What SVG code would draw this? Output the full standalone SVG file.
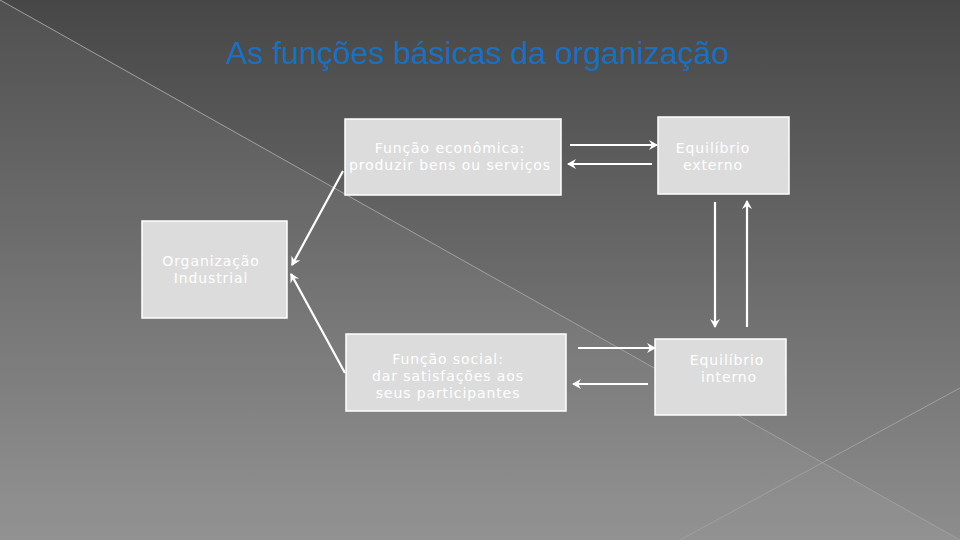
<svg xmlns="http://www.w3.org/2000/svg" width="960" height="540" viewBox="0 0 960 540">
<defs>
<linearGradient id="bg" x1="0" y1="0" x2="0" y2="1">
<stop offset="0" stop-color="#474747"/>
<stop offset="1" stop-color="#8d8d8d"/>
</linearGradient>
<marker id="ah" markerWidth="10" markerHeight="10" refX="8" refY="5" orient="auto" markerUnits="userSpaceOnUse">
<path d="M0,0 L9,5 L0,10 L3,5 Z" fill="#ffffff"/>
</marker>
<style>
.box{fill:#dcdcdc;stroke:#ffffff;stroke-width:1.5}
.lbl{font-family:"DejaVu Sans",Verdana,sans-serif;font-size:14px;fill:#ffffff;text-anchor:middle;letter-spacing:0.9px}
.con{stroke:#ffffff;stroke-width:2.2;fill:none;marker-end:url(#ah)}
.deco{stroke:#a0a0a0;stroke-width:1;fill:none}
</style>
</defs>
<rect x="0" y="0" width="960" height="540" fill="url(#bg)"/>
<polygon points="0,0 960,540 0,540" fill="#ffffff" opacity="0.05"/>
<line class="deco" x1="0" y1="0" x2="960" y2="540"/>
<line class="deco" x1="680" y1="540" x2="960" y2="388"/>
<text x="477.5" y="64" font-family="'Liberation Sans',Arial,sans-serif" font-size="31" fill="#1a70c0" text-anchor="middle" textLength="503" lengthAdjust="spacingAndGlyphs">As funções básicas da organização</text>
<g id="economica">
<rect class="box" x="345" y="119" width="216" height="76"/>
<text class="lbl" x="450" y="153">Função econômica:</text>
<text class="lbl" x="450" y="170">produzir bens ou serviços</text>
</g>
<g id="externo">
<rect class="box" x="658" y="117" width="131" height="77"/>
<text class="lbl" x="713" y="153">Equilíbrio</text>
<text class="lbl" x="713" y="170">externo</text>
</g>
<g id="organizacao">
<rect class="box" x="142" y="221" width="145" height="97"/>
<text class="lbl" x="211" y="266">Organização</text>
<text class="lbl" x="211" y="283">Industrial</text>
</g>
<g id="social">
<rect class="box" x="346" y="334" width="220" height="77"/>
<text class="lbl" x="448" y="364">Função social:</text>
<text class="lbl" x="448" y="381">dar satisfações aos</text>
<text class="lbl" x="448" y="398">seus participantes</text>
</g>
<g id="interno">
<rect class="box" x="655" y="339" width="131" height="76"/>
<text class="lbl" x="727" y="365">Equilíbrio</text>
<text class="lbl" x="729" y="382">interno</text>
</g>
<g id="connectors">
<line class="con" x1="343" y1="171" x2="292" y2="265"/>
<line class="con" x1="345" y1="373" x2="291" y2="274"/>
<line class="con" x1="570" y1="145" x2="657" y2="145"/>
<line class="con" x1="652" y1="164" x2="568" y2="164"/>
<line class="con" x1="715" y1="202" x2="715" y2="327"/>
<line class="con" x1="747" y1="327" x2="747" y2="201"/>
<line class="con" x1="578" y1="348" x2="655" y2="348"/>
<line class="con" x1="648" y1="384" x2="573" y2="384"/>
</g>
</svg>
